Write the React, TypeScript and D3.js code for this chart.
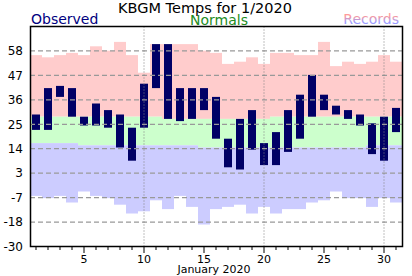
import React from "react";
import * as d3 from "d3";

const days = [1,2,3,4,5,6,7,8,9,10,11,12,13,14,15,16,17,18,19,20,21,22,23,24,25,26,27,28,29,30,31];
const obsHigh = [30,42,43,42,29,35,32,30,24,44,62,62,42,42,42,38,19,28,32,17,22,32,39,48,39,34,32,30,26,29,33];
const obsLow = [23,23,38,29,25,25,24,15,9,24,42,28,27,28,32,19,6,5,14,7,7,13,19,29,32,30,28,25,12,9,22];
const normHigh = [29,29,29,29,29,29,29,29,29,29,29,28,28,28,28,28,28,28,28,28,29,29,29,29,29,29,29,29,29,29,29];
const normLow = [17,17,17,17,16,16,16,16,16,16,16,16,16,16,15,15,15,15,15,15,15,15,15,15,15,15,15,15,16,16,16];
const recHigh = [57,56,57,58,57,61,59,63,57,49,62,62,62,62,59,58,53,54,56,53,58,58,57,57,63,52,54,53,54,57,54];
const recLow = [-7,-8,-7,-10,-5,-7,-8,-11,-15,-14,-9,-13,-7,-12,-20,-13,-12,-11,-15,-12,-15,-13,-13,-10,-9,-5,-8,-8,-12,-8,-10];
const yMin = -30;
const yMax = 70;
const yTickCount = 9;
const xLabelDays = [5, 10, 15, 20, 25, 30];
const xGridDays = [10, 20, 30];
const title = "KBGM Temps for 1/2020";
const xTitle = "January 2020";

const W = 412, H = 276;
const L = 30, R = 402, T = 26.5, B = 246.5;
const FONT = "'DejaVu Sans', Verdana, sans-serif";

export default function App() {
  const x = d3.scaleBand<number>().domain(days).range([L, R]).padding(0);
  const y = d3.scaleLinear().domain([yMin, yMax]).range([B, T]);
  const bw = x.bandwidth();
  const barW = bw * 2 / 3;
  const ticks = d3.range(0, yTickCount).map((k) => yMin + (k * (yMax - yMin)) / yTickCount);
  const cx = (d: number) => (x(d) as number) + bw / 2;

  return (
    <svg width={W} height={H} style={{ position: "absolute", left: 0, top: 0, background: "#fff" }} fontFamily={FONT}>
      <defs>
        <linearGradient id="recGrad" x1="0" y1="0" x2="0" y2="1">
          <stop offset="0.3" stopColor="#ff9999" />
          <stop offset="0.7" stopColor="#9999ff" />
        </linearGradient>
      </defs>
      <text x={205} y={13} textAnchor="middle" fontSize={14.5} fill="#000">{title}</text>
      <text x={31} y={24} fontSize={14} fill="#000080">Observed</text>
      <text x={219} y={24.5} textAnchor="middle" fontSize={14} fill="#228b22">Normals</text>
      <text x={399} y={24} textAnchor="end" fontSize={14} fill="url(#recGrad)">Records</text>

      {days.map((d, i) => (
        <g key={"band" + d}>
          <rect x={x(d)} y={y(recHigh[i])} width={bw} height={y(normHigh[i]) - y(recHigh[i])} fill="#ffcccc" />
          <rect x={x(d)} y={y(normHigh[i])} width={bw} height={y(normLow[i]) - y(normHigh[i])} fill="#ccffcc" />
          <rect x={x(d)} y={y(normLow[i])} width={bw} height={y(recLow[i]) - y(normLow[i])} fill="#ccccff" />
        </g>
      ))}

      {days.map((d, i) => (
        <rect key={"obs" + d} x={cx(d) - barW / 2} y={y(obsHigh[i])} width={barW} height={y(obsLow[i]) - y(obsHigh[i])} fill="#000066" />
      ))}

      {ticks.slice(1).map((t) => (
        <line key={"g" + t} x1={L} x2={R} y1={y(t)} y2={y(t)} stroke="#999" strokeWidth={1.2} strokeDasharray="5,3" />
      ))}
      {xGridDays.map((d) => (
        <line key={"v" + d} x1={cx(d)} x2={cx(d)} y1={T} y2={B} stroke="#808080" strokeWidth={1} strokeDasharray="1,2" />
      ))}

      <rect x={L + 0.5} y={T} width={R - L} height={B - T} fill="none" stroke="#000" strokeWidth={1.5} />

      {ticks.map((t) => (
        <text key={"yl" + t} x={23} y={y(t)} dy="0.36em" textAnchor="end" fontSize={12} fill="#000">{Math.trunc(t)}</text>
      ))}

      {days.map((d) => {
        const major = d % 5 === 0;
        return (
          <line key={"xt" + d} x1={cx(d)} x2={cx(d)} y1={B} y2={B + (major ? 6.5 : 3.5)} stroke="#000" strokeWidth={1} />
        );
      })}
      {xLabelDays.map((d) => (
        <text key={"xl" + d} x={cx(d)} y={263} textAnchor="middle" fontSize={11} fill="#000">{d}</text>
      ))}
      <text x={214} y={273} textAnchor="middle" fontSize={11} fill="#000">{xTitle}</text>
    </svg>
  );
}
